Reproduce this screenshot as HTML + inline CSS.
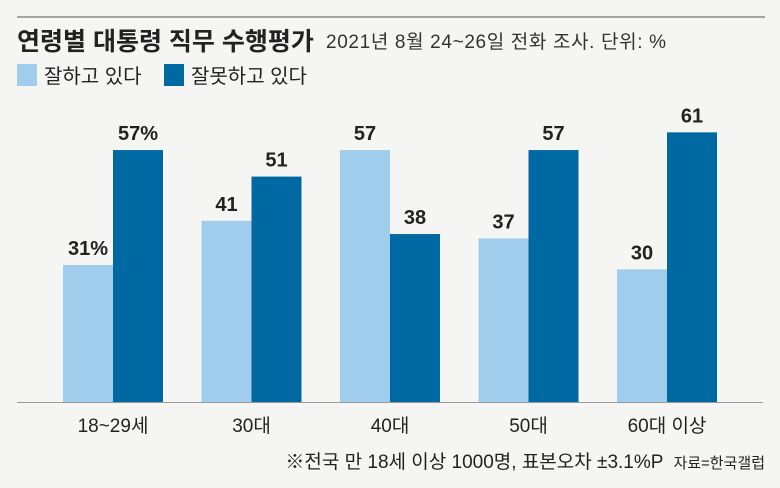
<!DOCTYPE html>
<html><head><meta charset="utf-8"><style>
body{margin:0;background:#f5f5f4;}
svg{display:block;font-family:"Liberation Sans","Noto Sans CJK KR",sans-serif;}
</style></head><body>
<svg id="c" width="780" height="488" viewBox="0 0 780 488">
<rect width="780" height="488" fill="#f5f5f4"/>
<line x1="17" y1="17" x2="765" y2="17" stroke="#555" stroke-width="1"/>
<text x="17" y="50" font-size="25" font-weight="bold" fill="#222">연령별 대통령 직무 수행평가</text>
<text x="326" y="48" font-size="19" fill="#333" textLength="340">2021년 8월 24~26일 전화 조사. 단위: %</text>
<rect x="17" y="64" width="20" height="22" fill="#9fcdeb"/>
<text x="44" y="83" font-size="20" fill="#222">잘하고 있다</text>
<rect x="164" y="64" width="20" height="22" fill="#0069a1"/>
<text x="191" y="83" font-size="20" fill="#222">잘못하고 있다</text>
<g id="bars"></g>
<line x1="17" y1="402.5" x2="763" y2="402.5" stroke="#999" stroke-width="1"/>
<text x="765" y="468" font-size="19" fill="#222" text-anchor="end"><tspan>※전국 만 18세 이상 1000명, 표본오차 ±3.1%P</tspan><tspan font-size="15" dx="10">자료=한국갤럽</tspan></text>
</svg>
<script>
const categories=["18~29세","30대","40대","50대","60대 이상"];
const approve=[31,41,57,37,30];
const disapprove=[57,51,38,57,61];
const approveLabels=["31%","41","57","37","30"];
const disapproveLabels=["57%","51","38","57","61"];
const NS="http://www.w3.org/2000/svg";
const g=document.getElementById('bars');
const base=402, scale=4.42, bw=50, x0=63, step=138.5;
function y(v){return base-v*scale;}
function mk(t,a){const e=document.createElementNS(NS,t);for(const k in a)e.setAttribute(k,a[k]);g.appendChild(e);return e;}
categories.forEach((c,i)=>{
  const gx=x0+i*step;
  const r1=mk('rect',{x:gx,y:y(approve[i]),width:bw,height:approve[i]*scale,fill:'#9fcdeb'});
  
  
  const r2=mk('rect',{x:gx+bw,y:y(disapprove[i]),width:bw,height:disapprove[i]*scale,fill:'#0069a1'});
  
  
  const t1=mk('text',{x:gx+bw/2,y:y(approve[i])-10,'font-size':20,'font-weight':'bold','text-anchor':'middle',fill:'#222'});
  t1.textContent=approveLabels[i];
  
  
  const t2=mk('text',{x:gx+bw*1.5,y:y(disapprove[i])-10,'font-size':20,'font-weight':'bold','text-anchor':'middle',fill:'#222'});
  t2.textContent=disapproveLabels[i];
  
  
  const t3=mk('text',{x:gx+bw,y:432,'font-size':19,'text-anchor':'middle',fill:'#222'});
  t3.textContent=c;
  
  
});
</script>
</body></html>
